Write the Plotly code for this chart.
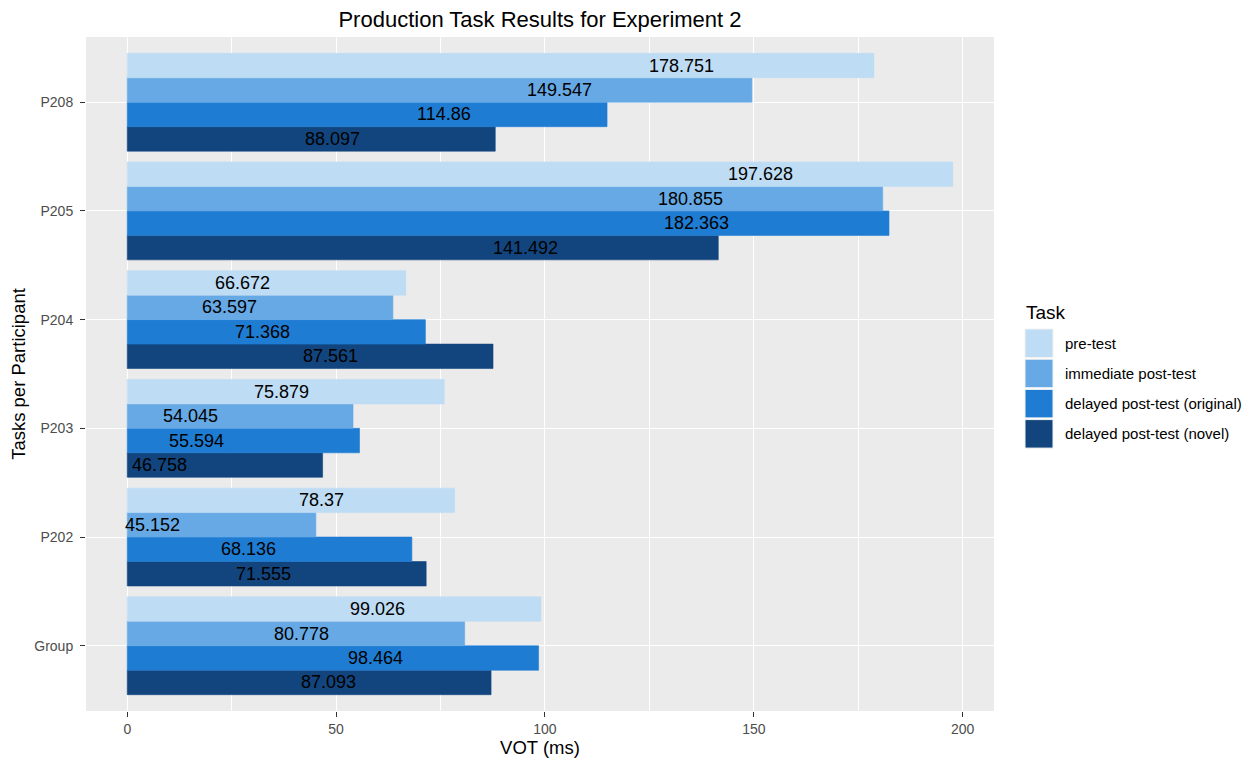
import plotly.graph_objects as go

# data
participants = ["Group", "P202", "P203", "P204", "P205", "P208"]
tasks = ["pre-test", "immediate post-test", "delayed post-test (original)", "delayed post-test (novel)"]
pre_test = [99.026, 78.37, 75.879, 66.672, 197.628, 178.751]
immediate_post = [80.778, 45.152, 54.045, 63.597, 180.855, 149.547]
delayed_original = [98.464, 68.136, 55.594, 71.368, 182.363, 114.86]
delayed_novel = [87.093, 71.555, 46.758, 87.561, 141.492, 88.097]

series = [pre_test, immediate_post, delayed_original, delayed_novel]
colors = ["#BEDCF4", "#66A9E5", "#1E7CD3", "#12457E"]

# the page body has an 8px margin, so the figure is a bit smaller than the window
OFF = 8
W, H = 1255 - OFF, 761 - OFF
ML, MR, MT, MB = 78, 261, 29, 50
PW, PH = W - ML - MR, H - MT - MB


def px2paper(px, py):
    # page pixels -> paper coordinates
    return (px - OFF - ML) / PW, (H - MB - (py - OFF)) / PH


fig = go.Figure()

# plotly stacks horizontal groups bottom-up, so add the last task first
for name, vals, col in reversed(list(zip(tasks, series, colors))):
    fig.add_trace(go.Bar(
        y=participants, x=vals, name=name, orientation="h",
        marker=dict(color=col, line=dict(color=col, width=0.6)),
        showlegend=False, hoverinfo="x+name",
    ))

# value labels, placed like ggplot geom_text with a large hjust
FS = 18
annotations = []
for k, vals in enumerate(series):
    slot = 3 - k  # 0 = bottom bar of a group
    for i, v in enumerate(vals):
        txt = str(v)
        w = sum(0.278 if c == "." else 0.556 for c in txt) * FS
        annotations.append(dict(
            x=v, y=i + (slot - 1.5) * 0.225, xref="x", yref="y",
            text=txt, showarrow=False, xanchor="center", yanchor="middle",
            xshift=-2.96 * w, font=dict(size=FS, color="black"),
        ))

# legend drawn by hand so the keys match ggplot's big squares
shapes = []
tx, ty = px2paper(1024, 312)
annotations.append(dict(x=tx, y=ty, xref="paper", yref="paper", text="Task",
                        showarrow=False, xanchor="left", yanchor="middle",
                        font=dict(size=19, color="black")))
for j, (name, col) in enumerate(zip(tasks, colors)):
    top = 329 + j * 30.2
    x0, y0 = px2paper(1025, top + 28.5)
    x1, y1 = px2paper(1053, top)
    shapes.append(dict(type="rect", xref="paper", yref="paper", x0=x0, x1=x1, y0=y0, y1=y1,
                       fillcolor=col, line=dict(color="#F2F2F2", width=1)))
    lx, ly = px2paper(1063, top + 14)
    annotations.append(dict(x=lx, y=ly, xref="paper", yref="paper", text=name,
                            showarrow=False, xanchor="left", yanchor="middle",
                            font=dict(size=15, color="black")))

fig.update_layout(
    width=W, height=H,
    margin=dict(l=ML, r=MR, t=MT, b=MB, autoexpand=False),
    paper_bgcolor="white", plot_bgcolor="#EBEBEB",
    font=dict(family="Liberation Sans, Arial, sans-serif"),
    title=dict(text="Production Task Results for Experiment 2", x=0.5, xref="paper",
               y=1 - (19 - OFF) / H, yref="container", xanchor="center", yanchor="middle",
               font=dict(size=22, color="black")),
    barmode="group", bargap=0.1, bargroupgap=0,
    annotations=annotations, shapes=shapes,
    xaxis=dict(
        range=[-9.88, 207.5], tickvals=[0, 50, 100, 150, 200],
        showgrid=True, gridcolor="white", gridwidth=1.2, zeroline=False,
        minor=dict(tickvals=[25, 75, 125, 175], showgrid=True, gridcolor="white", gridwidth=0.6, ticks=""),
        ticks="outside", ticklen=5, tickcolor="#333333", tickwidth=1.1,
        tickfont=dict(size=14, color="#4D4D4D"),
        title=dict(text="VOT (ms)", font=dict(size=18.5, color="black"), standoff=2),
        automargin=False, showline=False,
    ),
    yaxis=dict(
        type="category", categoryorder="array", categoryarray=participants,
        range=[-0.6, 5.6],
        showgrid=True, gridcolor="white", gridwidth=1.2, zeroline=False,
        ticks="outside", ticklen=5, tickcolor="#333333", tickwidth=1.1,
        tickfont=dict(size=14, color="#4D4D4D"), ticklabelstandoff=4,
        title=dict(text="Tasks per Participant", font=dict(size=18.5, color="black"), standoff=6),
        automargin=False, showline=False,
    ),
)

fig.write_html("out.html")
